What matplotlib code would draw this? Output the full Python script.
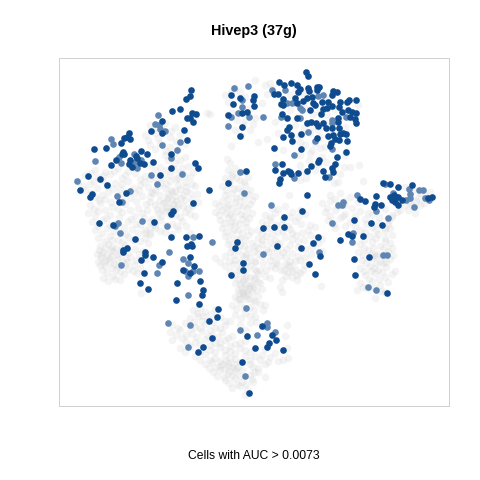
import matplotlib
matplotlib.use("Agg")
import matplotlib.pyplot as plt

TITLE = "Hivep3 (37g)"
XLABEL = "Cells with AUC > 0.0073"

# cells below the AUC threshold
grey_cells = [
    (95,170),(105,172),(118,168),(128,171),(85,175),(98,177),(110,174),(122,178),(135,173),(145,176),
    (78,182),(90,184),(102,180),(115,183),(128,181),(140,185),(150,179),(85,190),(97,188),(108,192),
    (120,189),(135,193),(148,187),(95,197),(105,199),(118,195),(130,198),(142,196),(90,205),(100,203),
    (112,207),(125,204),(138,208),(150,202),(88,213),(98,211),(110,215),(122,212),(135,216),(147,210),
    (92,222),(103,220),(115,224),(128,221),(140,225),(152,219),(95,230),(107,228),(120,232),(132,229),
    (145,233),(98,238),(110,236),(118,240),(128,237),(140,241),(150,235),(100,246),(108,244),(116,248),
    (125,245),(135,249),(148,243),(97,254),(103,252),(112,256),(120,253),(130,257),(143,251),(98,262),
    (106,260),(114,264),(122,261),(134,265),(146,259),(102,270),(112,268),(120,272),(128,269),(137,273),
    (103,278),(113,276),(120,280),(141,293),(107,255),(117,259),(105,266),(127,262),(111,250),(101,258),
    (150,125),(165,123),(175,127),(145,135),(155,133),(170,137),(180,134),(150,145),(160,143),(170,147),
    (185,144),(165,155),(175,153),(185,157),(150,165),(160,167),(175,163),(188,166),(195,164),(170,175),
    (180,173),(190,177),(193,172),(160,183),(170,181),(178,185),(185,182),(195,186),(155,190),(165,188),
    (172,192),(180,189),(190,193),(150,197),(160,195),(167,199),(175,196),(185,200),(197,194),(155,205),
    (163,203),(170,207),(178,204),(188,208),(198,202),(158,213),(165,211),(175,215),(185,212),(195,216),
    (150,222),(160,220),(172,224),(182,221),(145,230),(155,228),(165,232),(178,229),(190,233),(168,197),
    (176,201),(162,209),(171,190),(183,195),(172,212),(166,184),(178,178),(207,113),(210,114),(195,116),
    (235,88),(225,95),(228,102),(240,92),(250,108),(237,120),(245,120),(255,118),(235,130),(250,130),
    (255,80),(227,159),(231,146),(228,170),(235,168),(245,172),(225,178),(232,176),(240,180),(248,177),
    (222,186),(230,184),(238,188),(245,185),(225,195),(232,193),(240,197),(248,194),(255,196),(215,203),
    (222,201),(228,205),(235,202),(243,206),(250,204),(215,212),(222,210),(230,214),(237,211),(245,215),
    (252,213),(220,220),(228,218),(235,222),(242,219),(222,228),(230,226),(238,230),(246,227),(225,236),
    (232,234),(240,238),(248,235),(228,244),(236,242),(244,246),(252,243),(230,252),(238,250),(246,254),
    (254,251),(215,258),(225,256),(235,260),(245,257),(255,261),(225,266),(233,264),(240,268),(250,265),
    (235,275),(242,273),(250,277),(258,274),(235,283),(243,281),(250,285),(258,282),(238,290),(245,288),
    (252,292),(262,289),(235,297),(243,295),(250,299),(258,296),(232,305),(240,303),(250,307),(260,304),
    (235,315),(245,313),(255,317),(240,325),(250,323),(262,327),(241,287),(247,291),(244,279),(238,299),
    (193,310),(200,308),(205,312),(215,309),(190,318),(198,316),(208,320),(220,317),(230,321),(172,325),
    (185,323),(195,327),(205,324),(215,328),(225,325),(170,332),(180,330),(192,334),(202,331),(212,335),
    (222,332),(232,336),(172,340),(182,338),(195,342),(205,339),(215,343),(225,340),(235,344),(245,341),
    (180,348),(190,346),(210,350),(220,347),(230,351),(240,348),(250,352),(265,349),(275,353),(195,356),
    (205,354),(215,358),(225,355),(235,359),(245,356),(260,360),(270,357),(278,361),(205,364),(212,362),
    (220,366),(228,363),(238,367),(250,364),(258,368),(213,372),(220,370),(228,374),(235,371),(250,375),
    (258,372),(225,380),(235,378),(242,382),(252,379),(232,388),(240,386),(247,390),(245,395),(253,367),
    (265,377),(253,382),(283,360),(288,358),(287,325),(287,348),(285,336),(263,310),(265,305),(255,302),
    (272,208),(285,206),(300,210),(265,215),(275,213),(290,217),(305,214),(262,222),(270,220),(282,224),
    (295,221),(310,225),(258,230),(268,228),(278,232),(290,229),(302,233),(315,227),(258,238),(266,236),
    (275,240),(285,237),(298,241),(310,235),(322,239),(255,246),(262,244),(272,248),(290,245),(305,249),
    (318,243),(258,254),(268,252),(280,256),(292,253),(305,257),(322,251),(255,262),(270,260),(285,264),
    (295,261),(305,265),(260,270),(275,268),(288,272),(295,269),(300,273),(255,278),(265,276),(282,280),
    (292,277),(252,285),(260,283),(280,287),(282,292),(321,286),(290,266),(297,275),(276,262),(284,270),
    (330,195),(340,193),(350,197),(322,203),(330,201),(345,205),(358,202),(325,212),(335,210),(345,214),
    (360,211),(372,215),(385,209),(328,220),(340,218),(350,222),(365,219),(378,223),(392,217),(335,228),
    (345,226),(360,230),(372,227),(385,231),(370,236),(378,234),(385,238),(392,235),(360,244),(372,242),
    (380,246),(390,243),(358,252),(368,250),(378,254),(388,251),(393,255),(362,260),(372,258),(380,262),
    (390,259),(360,268),(370,266),(378,270),(386,267),(395,271),(365,275),(375,273),(385,277),(392,274),
    (360,283),(372,281),(380,285),(357,290),(367,288),(385,292),(375,298),(376,256),(383,263),(371,271),
    (405,187),(413,190),(420,193),(405,205),(412,205),(420,205),(415,213),(430,192),(400,210),(392,215),
    (385,228),(265,85),(270,83),(290,95),(303,93),(325,97),(290,110),(305,108),(320,112),(335,109),
    (358,105),(295,125),(325,123),(345,127),(300,135),(310,133),(320,137),(305,145),(315,143),(325,147),
    (300,155),(310,153),(322,157),(345,155),(300,165),(344,167),(350,167),(359,165),(302,172),(315,170),
    (340,174),(300,180),(328,178),(338,182),(363,181),(289,195),(278,133),(267,139),(258,142),(312,150),
    # second pass over the denser areas
    (91,173),(103,176),(114,171),(125,175),(140,179),(83,186),(94,181),(107,186),(122,184),(133,188),
    (144,182),(91,193),(102,195),(113,189),(126,192),(139,190),(151,192),(99,200),(111,202),(122,199),
    (136,201),(146,204),(94,209),(105,210),(118,209),(130,210),(142,213),(95,216),(106,218),(119,217),
    (131,219),(144,218),(98,226),(110,225),(124,227),(136,224),(150,228),(102,233),(114,231),(126,234),
    (138,233),(105,241),(112,240),(122,242),(133,240),(145,238),(99,250),(105,248),(113,251),(122,249),
    (128,252),(139,254),(101,255),(109,258),(118,255),(126,258),(136,260),(100,265),(110,262),(118,266),
    (125,265),(140,268),(107,273),(116,270),(124,274),(133,271),(108,281),(115,279),(104,262),(112,247),
    (153,129),(161,128),(171,131),(148,140),(158,138),(176,141),(155,149),(166,151),(178,149),(168,160),
    (180,160),(155,170),(166,170),(182,168),(174,169),(176,179),(184,175),(156,178),(163,178),(186,187),
    (192,184),(158,186),(168,194),(175,191),(186,191),(153,193),(159,201),(165,202),(172,200),(181,198),
    (192,199),(157,209),(167,207),(174,209),(183,206),(192,206),(161,216),(170,215),(180,217),(190,214),
    (155,225),(166,225),(177,226),(186,226),(150,233),(160,231),(172,234),(173,204),(169,211),(177,208),
    (231,92),(245,97),(232,113),(243,125),(253,124),(241,135),(230,163),(232,174),(240,172),(229,181),
    (236,178),(244,182),(226,190),(234,189),(242,191),(250,190),(228,199),(236,198),(244,199),(252,200),
    (219,206),(226,207),(232,208),(239,205),(247,208),(219,215),(226,213),(233,216),(241,214),(249,218),
    (224,223),(231,222),(239,224),(246,222),(226,232),(234,229),(242,233),(251,231),(229,240),(237,239),
    (245,240),(232,247),(240,245),(248,249),(234,255),(242,255),(250,257),(220,262),(229,261),(240,262),
    (247,262),(230,271),(238,270),(246,270),(254,269),(238,279),(246,277),(254,279),(240,284),(246,284),
    (253,287),(242,292),(248,294),(256,290),(240,299),(247,299),(254,300),(236,309),(244,308),(254,310),
    (241,318),(250,316),(245,330),(256,322),(243,293),(249,288),(245,296),(239,293),
    (197,313),(203,316),(211,314),(194,322),(202,321),(213,322),(225,321),(178,328),(190,329),(200,328),
    (210,330),(220,328),(176,335),(186,335),(197,337),(208,336),(218,337),(228,338),(186,342),(200,344),
    (210,345),(220,343),(230,346),(240,343),(185,352),(200,351),(215,352),(225,350),(235,353),(245,350),
    (255,356),(200,360),(210,360),(220,361),(230,358),(240,362),(250,360),(265,364),(209,368),(216,367),
    (224,369),(232,367),(242,370),(254,372),(217,376),(224,377),(232,376),(240,376),(229,383),(237,384),
    (246,384),(228,366),(234,364),(222,364),(226,361),(236,369),(229,371),(262,355),(268,362),
    (278,209),(292,212),(270,217),(283,219),(298,217),(266,225),(276,225),(288,226),(301,224),(262,233),
    (272,234),(283,231),(296,235),(308,230),(262,240),(270,242),(280,243),(292,239),(304,240),(316,238),
    (258,248),(266,249),(277,250),(286,249),(298,247),(312,247),(262,256),(273,256),(286,257),(298,256),
    (311,254),(263,263),(277,264),(290,261),(300,260),(266,270),(281,270),(292,271),(303,270),(270,278),
    (286,276),(297,280),(256,271),(271,266),(288,265),(283,252),(277,244),(292,233),
    (335,199),(344,201),(327,208),(338,206),(352,208),(330,216),(343,216),(355,216),(368,213),(334,224),
    (355,226),(366,224),(379,217),(388,224),(365,232),(376,230),(390,228),(364,240),(376,238),(385,241),
    (364,248),(373,248),(384,248),(392,248),(363,255),(371,254),(383,256),(366,263),(376,263),(386,262),
    (364,271),(374,268),(382,272),(369,279),(379,279),(388,282),(363,287),(374,288),(381,291),(374,255),
    (410,194),(418,198),(425,195),(409,202),(416,201),(424,203),(408,210),(397,212),(389,220),(426,199),
    (272,88),(296,90),(315,92),(297,104),(313,114),(327,115),(340,118),(299,116),(318,130),(330,130),
    (312,127),(304,128),(300,142),(320,148),(331,140),(309,160),(318,164),(326,162),(306,178),(334,183),
    (267,94),(262,103),(275,122),(283,150),
]

# cells above the threshold, full colour
dark_cells = [
    (191,90),(190,96),(186,99),(172,111),(180,109),(192,113),(196,114),(187,118),(190,118),(193,122),
    (162,121),(151,131),(162,133),(184,130),(187,140),(121,143),(124,138),(129,133),(127,137),(130,139),
    (94,149),(106,148),(141,151),(147,154),(123,152),(122,154),(124,154),(116,160),(111,165),(136,156),
    (137,158),(130,160),(140,163),(144,164),(153,162),(129,164),(132,167),(171,154),(171,168),(195,163),
    (198,168),(88,176),(100,179),(107,185),(80,190),(160,175),(92,194),(90,197),(126,193),(119,202),
    (209,190),(193,203),(173,211),(171,214),(99,223),(113,225),(154,222),(231,95),(240,98),(254,96),
    (253,100),(233,104),(228,115),(242,113),(247,112),(242,127),(240,136),(246,171),(228,183),
    (306,72),(308,76),(279,82),(284,85),(291,83),(297,85),(274,94),(278,94),(300,89),(298,92),
    (308,88),(309,91),(317,87),(319,87),(317,90),(333,91),(337,92),(332,95),(312,97),(307,98),
    (303,101),(295,98),(283,99),(254,106),(281,104),(283,105),(297,103),(313,103),(315,105),(310,110),
    (322,102),(328,102),(323,109),(327,108),(332,106),(321,114),(340,102),(347,102),(349,100),(356,100),
    (339,107),(342,112),(348,110),(352,112),(356,113),(350,117),(355,119),(356,123),(282,114),(287,118),
    (297,118),(307,123),(311,122),(316,123),(318,126),(323,123),(338,118),(338,122),(332,128),(326,128),
    (339,128),(289,127),(287,130),(291,135),(283,137),(301,134),(317,138),(328,136),(333,135),(340,134),
    (343,133),(346,134),(335,139),(339,140),(347,141),(331,143),(330,146),(292,141),(274,148),(301,149),
    (346,152),(337,157),(319,160),(318,162),(335,164),(311,166),(282,164),(275,170),(323,171),(332,168),
    (333,172),(307,171),(290,172),(288,171),(291,174),(283,173),(298,173),(280,179),(279,183),(325,177),
    (383,183),(390,184),(398,187),(412,185),(390,197),(394,195),(396,197),(398,197),(392,200),(395,202),
    (398,205),(402,200),(428,198),(432,197),(360,199),(365,201),(376,196),(375,204),(374,207),(381,205),
    (307,195),(302,211),(284,217),(354,220),(371,223),(382,225),(263,228),(274,227),(284,227),
    (135,239),(171,237),(186,237),(199,236),(237,242),(235,248),(187,246),(191,244),(192,246),(127,248),
    (123,250),(123,252),(145,252),(145,255),(153,257),(141,260),(190,257),(243,263),(162,262),(194,266),
    (183,270),(190,273),(243,270),(144,273),(231,275),(200,281),(140,283),(177,283),(148,289),(203,290),
    (202,295),(176,300),(199,304),(218,309),(217,317),(209,321),(247,336),(212,338),(203,347),(198,352),
    (255,348),(242,362),(249,393),(318,237),(313,243),(340,240),(348,234),(352,236),(363,236),(277,246),
    (301,248),(320,256),(309,264),(315,274),(354,259),(369,257),(355,275),(387,293),(262,326),(272,335),
    (276,340),(269,343),(267,347),(283,350),
]

# cells above the threshold, weaker colour
faded_cells = [
    (158,115),(155,124),(159,125),(160,129),(165,131),(180,142),(162,145),(177,150),(111,139),(113,144),
    (134,154),(119,157),(121,163),(95,161),(141,160),(135,162),(137,168),(171,158),(77,181),(151,175),
    (182,174),(157,184),(117,196),(130,191),(122,202),(115,226),(118,223),(142,221),(167,226),(234,88),
    (248,86),(242,100),(242,107),(231,117),(238,113),(249,117),(228,126),(240,172),(244,193),(272,90),
    (285,90),(323,95),(318,96),(263,117),(287,103),(292,103),(300,108),(302,110),(346,117),(281,117),
    (300,118),(332,120),(332,123),(308,132),(315,141),(332,149),(294,155),(275,164),(294,178),(329,177),
    (385,184),(409,189),(419,190),(423,190),(393,193),(406,200),(410,194),(410,198),(425,198),(429,200),
    (414,207),(357,195),(376,211),(343,202),(342,205),(338,205),(271,205),(332,223),(388,218),(120,233),
    (193,237),(212,242),(169,252),(183,259),(188,263),(159,265),(121,265),(185,271),(199,271),(193,271),
    (188,276),(157,273),(188,295),(246,308),(168,323),(190,325),(240,330),(257,335),(188,347),(245,376),
    (353,233),(352,242),(263,254),(319,252),(383,255),(387,255),(368,287),(376,290),(267,323),(267,327),
    (275,332),
]

plt.rcParams['font.family'] = ['Liberation Sans', 'DejaVu Sans']

fig = plt.figure(figsize=(4.8, 4.8), dpi=100)
ax = fig.add_axes([59/480, 1-406/480, 390/480, 348/480])


def draw(cells, color, size, alpha=1.0):
    ax.scatter([c[0] for c in cells], [c[1] for c in cells], s=size, color=color,
               alpha=alpha, linewidths=0)


draw(grey_cells, '#cfcfcf', 30, 0.22)
draw(faded_cells, '#5f86b3', 23)
draw(dark_cells, '#0f4c8f', 23)

ax.set_xlim(59, 449)
ax.set_ylim(406, 58)
ax.set_xticks([])
ax.set_yticks([])
for s in ax.spines.values():
    s.set_color('#d0d0d0')
    s.set_linewidth(0.7)

fig.text(254/480, 1-31/480, TITLE, ha='center', va='center', fontsize=10.4, fontweight='bold')
fig.text(254/480, 1-456/480, XLABEL, ha='center', va='center', fontsize=8.7)

fig.savefig('out.png', dpi=100)
